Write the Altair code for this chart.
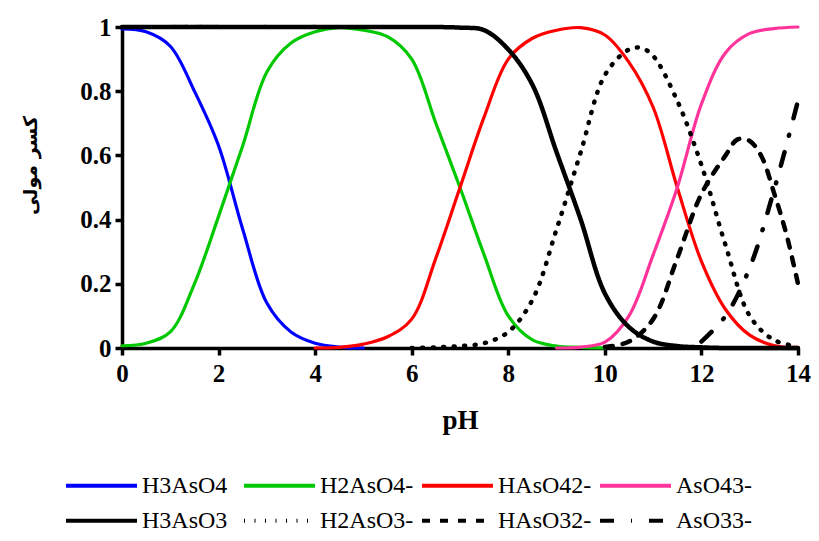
import altair as alt
import pandas as pd

# ---------------- data ----------------
species_a = ["H3AsO4", "H2AsO4-", "HAsO42-", "AsO43-"]
colors_a = ["#0000FF", "#00C800", "#FF0000", "#FF3399"]
species_b = ["H3AsO3", "H2AsO3-", "HAsO32-", "AsO33-"]
dashes_b = [[1, 0], [1, 9.5], [8, 10], [14, 17, 1, 17]]

ph_h3aso4 = [0, 0.5, 1, 1.5, 2, 2.5, 3, 3.5, 4, 4.5, 5]
h3aso4 = [0.994, 0.985, 0.94, 0.8, 0.63, 0.37, 0.14, 0.05, 0.015, 0.003, 0.0]

ph_h2aso4 = [0, 0.5, 1, 1.5, 2, 2.5, 3, 3.5, 4, 4.5, 5, 5.5, 6, 6.5, 7, 7.5, 8, 8.5, 9, 9.5, 10]
h2aso4 = [0.007, 0.015, 0.05, 0.2, 0.41, 0.63, 0.86, 0.95, 0.985, 0.998, 0.99, 0.97,
          0.9, 0.7, 0.5, 0.29, 0.1, 0.025, 0.006, 0.002, 0.0]

ph_haso4 = [4, 4.5, 5, 5.5, 6, 6.5, 7, 7.5, 8, 8.5, 9, 9.5, 10, 10.5, 11, 11.5, 12, 12.5, 13, 13.5, 14]
haso4 = [0.0, 0.002, 0.012, 0.035, 0.09, 0.28, 0.5, 0.72, 0.9, 0.965, 0.99, 0.998,
         0.975, 0.89, 0.75, 0.5, 0.27, 0.12, 0.04, 0.008, 0.002]

ph_aso4 = [9, 9.5, 10, 10.5, 11, 11.5, 12, 12.5, 13, 13.5, 14]
aso4 = [0.0, 0.003, 0.018, 0.1, 0.29, 0.5, 0.76, 0.92, 0.98, 0.995, 1.0]

ph_h3aso3 = [0, 1, 2, 3, 4, 5, 6, 7, 7.5, 8, 8.5, 9, 9.5, 10, 10.5, 11, 11.5, 12, 12.5, 13, 13.5, 14]
h3aso3 = [1, 1, 1, 1, 1, 1, 1, 0.998, 0.99, 0.93, 0.82, 0.61, 0.4, 0.17, 0.065,
          0.02, 0.006, 0.002, 0.0, 0.0, 0.0, 0.0]

ph_h2aso3 = [6, 6.5, 7, 7.5, 8, 8.5, 9, 9.5, 10, 10.5, 10.75, 11, 11.5, 12, 12.5, 13, 13.5, 14]
h2aso3 = [0.0, 0.002, 0.006, 0.015, 0.05, 0.15, 0.37, 0.61, 0.85, 0.93, 0.935, 0.91,
          0.77, 0.57, 0.32, 0.1, 0.025, 0.005]

ph_haso3 = [10, 10.5, 11, 11.5, 12, 12.5, 12.75, 13, 13.25, 13.5, 13.75, 14]
haso3 = [0.003, 0.02, 0.09, 0.28, 0.48, 0.6, 0.65, 0.645, 0.595, 0.485, 0.36, 0.2]

ph_aso3 = [12, 12.5, 13, 13.5, 14]
aso3 = [0.02, 0.1, 0.25, 0.49, 0.77]

x_ticks = [0, 2, 4, 6, 8, 10, 12, 14]
y_ticks = [0, 0.2, 0.4, 0.6, 0.8, 1]


def long_table(names, xs_list, ys_list, col):
    rows = []
    for name, xs, ys in zip(names, xs_list, ys_list):
        for i, (xv, yv) in enumerate(zip(xs, ys)):
            rows.append({col: name, "pH": xv, "frac": yv, "i": i})
    return pd.DataFrame(rows)


df_a = long_table(species_a, [ph_h3aso4, ph_h2aso4, ph_haso4, ph_aso4],
                  [h3aso4, h2aso4, haso4, aso4], "arsenate")
df_b = long_table(species_b, [ph_h3aso3, ph_h2aso3, ph_haso3, ph_aso3],
                  [h3aso3, h2aso3, haso3, aso3], "arsenite")

SERIF = "Liberation Serif"


def build(use_encode):
    def leg(y):
        kw = dict(
            title=None, orient="none", legendX=-58, legendY=y,
            direction="horizontal", columns=4, gridAlign="all",
            symbolType="stroke", symbolSize=5041, symbolStrokeWidth=4,
            symbolStrokeColor="black",
            labelFont=SERIF, labelFontSize=24, labelColor="black",
            labelOffset=3, columnPadding=0, labelLimit=200,
        )
        if use_encode:
            kw["encode"] = {"symbols": {"update": {"strokeCap": {"value": "round"}}}}
        return alt.Legend(**kw)

    x_enc = alt.X("pH:Q", scale=alt.Scale(domain=[0, 14], nice=False, zero=False),
                  axis=alt.Axis(values=x_ticks, title="pH", grid=False, labelFlush=False,
                                labelFont=SERIF, labelFontSize=25, labelFontWeight="bold",
                                labelColor="black", labelPadding=6,
                                titleFont=SERIF, titleFontSize=27, titleFontWeight="bold",
                                titleColor="black", titleBaseline="middle", titleY=72,
                                domainColor="black", domainWidth=3.5,
                                tickColor="black", tickWidth=3.5, tickSize=7))
    y_enc = alt.Y("frac:Q", scale=alt.Scale(domain=[0, 1], nice=False),
                  axis=alt.Axis(values=y_ticks, format=".1~f", title="کسر مولی", grid=False,
                                labelFlush=False,
                                labelFont=SERIF, labelFontSize=25, labelFontWeight="bold",
                                labelColor="black", labelPadding=4,
                                titleFont="DejaVu Sans", titleFontSize=19, titleFontWeight="bold",
                                titleColor="black", titleBaseline="middle", titleAlign="center",
                                titleX=-92, titleY=138, titleAngle=270,
                                domainColor="black", domainWidth=3.5,
                                tickColor="black", tickWidth=3.5, tickSize=7))

    colored = alt.Chart(df_a).mark_line(
        interpolate="catmull-rom", strokeWidth=3.2, strokeCap="round", strokeJoin="round"
    ).encode(
        x=x_enc, y=y_enc, order="i:Q",
        color=alt.Color("arsenate:N", scale=alt.Scale(domain=species_a, range=colors_a),
                        legend=leg(421)),
    )
    black = alt.Chart(df_b).mark_line(
        interpolate="catmull-rom", strokeWidth=4.5, strokeCap="round", strokeJoin="round",
        color="black"
    ).encode(
        x=x_enc, y=y_enc, order="i:Q",
        strokeDash=alt.StrokeDash("arsenite:N", scale=alt.Scale(domain=species_b, range=dashes_b),
                                  legend=leg(456)),
    )

    ch = alt.layer(colored, black).properties(
        width=676, height=321,
        autosize=alt.AutoSizeParams(type="none"),
        padding={"left": 114, "top": 19, "right": 13, "bottom": 185},
        background="white",
    ).configure_view(stroke=None)
    return ch


try:
    chart = build(True)
    chart.to_dict()
except Exception:
    chart = build(False)

chart.save("out.html", embed_options={"renderer": "svg", "actions": False})
